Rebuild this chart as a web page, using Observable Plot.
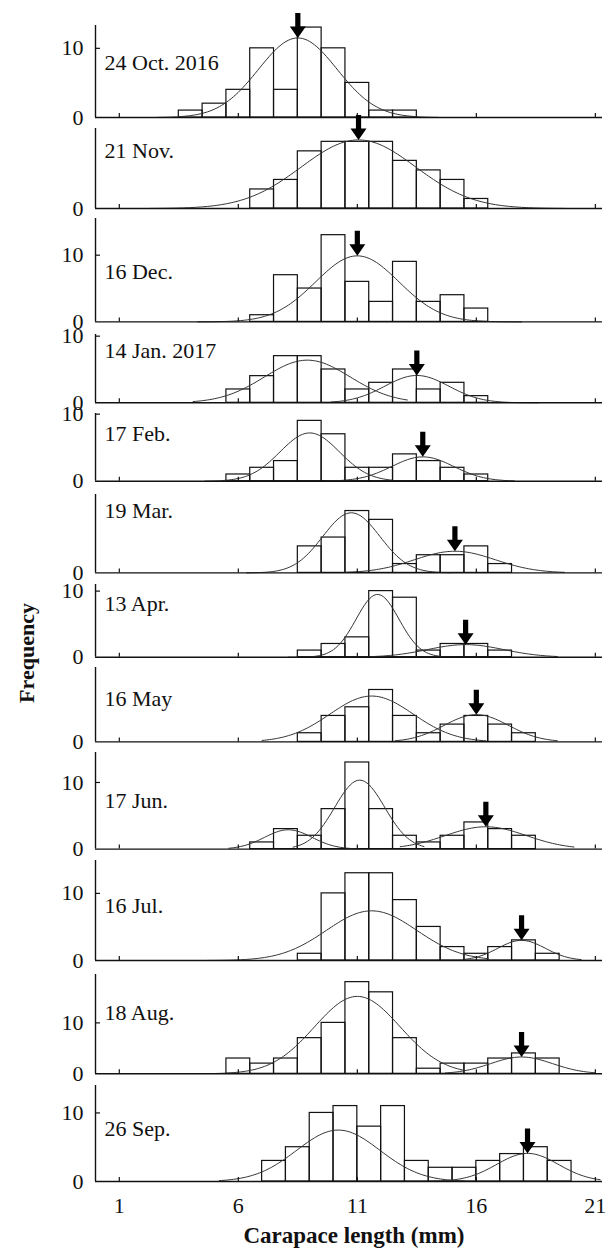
<!DOCTYPE html>
<html><head><meta charset="utf-8">
<script src="https://cdn.jsdelivr.net/npm/d3@7"></script>
<script src="https://cdn.jsdelivr.net/npm/@observablehq/plot@0.6"></script>
<style>
html,body{margin:0;padding:0;background:#fff;}
#chart{position:relative;width:607px;height:1248px;overflow:hidden;font-family:"Liberation Serif","DejaVu Serif",serif;color:#111;}
#chart svg{position:absolute;left:0;}
.lab{position:absolute;font-weight:bold;white-space:nowrap;line-height:1;}
</style></head><body><div id="chart"></div>
<script>
// ---- data ----
const sizeClass = d3.range(1, 22);                 // 1 mm classes (mid-points)
const sizeClassSep = sizeClass.map(c => c - 0.5);  // last panel drawn half a class to the left
const sampleDates = ["24 Oct. 2016","21 Nov.","16 Dec.","14 Jan. 2017","17 Feb.","19 Mar.","13 Apr.","16 May","17 Jun.","16 Jul.","18 Aug.","26 Sep."];

const nOct = [0,0,0,1,2,4,10,4,13,10,5,1,1,0,0,0,0,0,0,0,0];
const nNov = [0,0,0,0,0,0,2,3,6,7,7,7,5,4,3,1,0,0,0,0,0];
const nDec = [0,0,0,0,0,0,1,7,5,13,6,3,9,3,4,2,0,0,0,0,0];
const nJan = [0,0,0,0,0,2,4,7,7,5,2,3,5,2,3,1,0,0,0,0,0];
const nFeb = [0,0,0,0,0,1,2,3,9,7,2,2,4,3,2,1,0,0,0,0,0];
const nMar = [0,0,0,0,0,0,0,0,3,4,7,6,1,2,2,3,1,0,0,0,0];
const nApr = [0,0,0,0,0,0,0,0,1,2,3,10,9,1,2,2,1,0,0,0,0];
const nMay = [0,0,0,0,0,0,0,0,1,3,4,6,3,1,2,3,2,1,0,0,0];
const nJun = [0,0,0,0,0,0,1,3,2,6,13,6,2,1,2,4,3,2,0,0,0];
const nJul = [0,0,0,0,0,0,0,0,1,10,13,13,9,5,2,1,2,3,1,0,0];
const nAug = [0,0,0,0,0,3,2,3,7,10,18,16,7,1,2,2,3,4,3,0,0];
const nSep = [0,0,0,0,0,0,0,3,5,10,11,8,11,3,2,2,3,4,5,3,0];
const panelCounts = [nOct,nNov,nDec,nJan,nFeb,nMar,nApr,nMay,nJun,nJul,nAug,nSep];
const panelClasses = [sizeClass,sizeClass,sizeClass,sizeClass,sizeClass,sizeClass,sizeClass,sizeClass,sizeClass,sizeClass,sizeClass,sizeClassSep];

// fitted normal components (panel index, mean, sd, peak height, drawn range, arrow)
const cohortPanel = [0,1,2,3,3,4,4,5,5,6,6,7,7,8,8,8,9,9,10,10,11,11];
const cohortMean  = [8.5,11.05,11.0,8.9,13.5,9.0,13.75,10.75,15.1,11.85,15.55,11.6,16.0,8.1,11.1,16.4,11.6,17.9,11.0,17.9,10.2,18.15];
const cohortSD    = [1.65,2.4,1.75,1.8,1.35,1.25,1.3,1.2,1.7,0.9,1.6,1.75,1.35,1.0,1.05,1.7,1.9,1.0,1.8,1.3,1.75,1.3];
const cohortPeak  = [11.5,7.2,9.9,6.4,4.1,7.2,3.63,6.8,2.45,9.5,1.9,5.3,3.15,2.9,10.35,3.35,7.4,3.0,15.2,3.3,7.5,4.1];
const cohortFrom  = [2.6,2.3,4.3,4.1,9.9,4.6,9.7,6.35,10.5,8.1,11.5,7.0,12.6,5.6,8.3,12.8,4.7,15.5,5.0,14.7,5.2,14.0];
const cohortTo    = [14.4,19.7,17.9,13.1,18.6,12.5,17.6,15.0,19.7,14.6,19.4,16.4,19.4,11.0,13.8,20.1,16.5,20.4,15.5,21.0,15.5,21.25];
const cohortArrow = [1,1,1,0,1,0,1,0,1,0,1,0,1,0,0,1,0,1,0,1,0,1];

const yTickLabels = [[0,10],[0],[0,10],[0,10],[0,10],[0],[0,10],[0],[0,10],[0,10],[0,10],[0,10]];
const xTickLabels = [1,6,11,16,21];

// ---- layout (pixels) ----
const axisTop  = [25,128.3,218.3,334,413.3,494.3,584,667.3,751.7,860,974,1085];
const axisBase = [117,208.3,321.7,402.3,481,572.7,656.7,741.7,848.3,960,1073.3,1181];
const yMax     = [13.3,8.4,15.5,10.25,10.1,8.87,11,8.6,14.5,14.9,19.5,14];
const labelDy  = [37,22,53,16,20,16,19,31,48,45,38,43];

const W = 607, ML = 95, MR = 5, MT = 20;
const FONT = '"Liberation Serif", "DejaVu Serif", serif';
const arrowSymbol = {
  draw(ctx) {
    ctx.moveTo(-2.6, -25); ctx.lineTo(2.6, -25); ctx.lineTo(2.6, -11.5);
    ctx.lineTo(8, -11.5); ctx.lineTo(0, 0); ctx.lineTo(-8, -11.5);
    ctx.lineTo(-2.6, -11.5); ctx.closePath();
  }
};

const chart = document.getElementById("chart");
sampleDates.forEach((date, i) => {
  const last = i === sampleDates.length - 1;
  const MB = last ? 70 : 2;
  const frameH = axisBase[i] - axisTop[i];
  const H = MT + frameH + MB;
  const bars = panelClasses[i].map((c, k) => ({c, n: panelCounts[i][k]})).filter(d => d.n > 0);
  const pts = [], arrows = [];
  cohortPanel.forEach((p, k) => {
    if (p !== i) return;
    const g = v => cohortPeak[k] * Math.exp(-((v - cohortMean[k]) ** 2) / (2 * cohortSD[k] ** 2));
    for (let v = cohortFrom[k]; v <= cohortTo[k] + 1e-9; v += 0.1) pts.push({k, x: v, y: g(v)});
    if (cohortArrow[k]) arrows.push({x: cohortMean[k], y: cohortPeak[k]});
  });
  const marks = [
    Plot.rect(bars, {x1: d => d.c - 0.5, x2: d => d.c + 0.5, y1: 0, y2: "n", fill: "none", stroke: "#111", strokeWidth: 1.2}),
    Plot.line(pts, {x: "x", y: "y", z: "k", stroke: "#333", strokeWidth: 1}),
    Plot.dot(arrows, {x: "x", y: "y", symbol: arrowSymbol, fill: "#000", stroke: "none"}),
    Plot.ruleX([0], {stroke: "#111", strokeWidth: 1.4}),
    Plot.ruleY([0], {stroke: "#111", strokeWidth: 1.4}),
    Plot.ruleX(xTickLabels, {insetTop: frameH - 4, stroke: "#111", strokeWidth: 1.2}),
    yTickLabels[i].includes(10) ? Plot.ruleY([10], {insetRight: W - ML - MR - 5, stroke: "#111", strokeWidth: 1.2}) : null,
    Plot.axisY({ticks: yTickLabels[i], tickSize: 0, tickPadding: 12, label: null}),
    Plot.text([date], {text: d => d, frameAnchor: "top-left", dx: 9, dy: labelDy[i], lineAnchor: "middle", textAnchor: "start"}),
    last ? Plot.axisX({ticks: xTickLabels, tickSize: 0, tickPadding: 16, label: null}) : null
  ].filter(Boolean);
  const svg = Plot.plot({
    width: W, height: H, marginLeft: ML, marginRight: MR, marginTop: MT, marginBottom: MB,
    x: last ? {domain: [0, 21.3]} : {domain: [0, 21.3], axis: null},
    y: {domain: [0, yMax[i]]},
    style: {fontFamily: FONT, fontSize: "22px", background: "transparent", overflow: "visible", color: "#111"},
    marks
  });
  svg.style.top = (axisTop[i] - MT) + "px";
  chart.appendChild(svg);
});

const yl = document.createElement("div");
yl.className = "lab"; yl.textContent = "Frequency";
Object.assign(yl.style, {left: "27px", top: "653px", fontSize: "22px", transform: "translate(-50%,-50%) rotate(-90deg)"});
chart.appendChild(yl);
const xl = document.createElement("div");
xl.className = "lab"; xl.textContent = "Carapace length (mm)";
Object.assign(xl.style, {left: "354px", top: "1235px", fontSize: "23px", transform: "translate(-50%,-50%)"});
chart.appendChild(xl);
</script></body></html>
